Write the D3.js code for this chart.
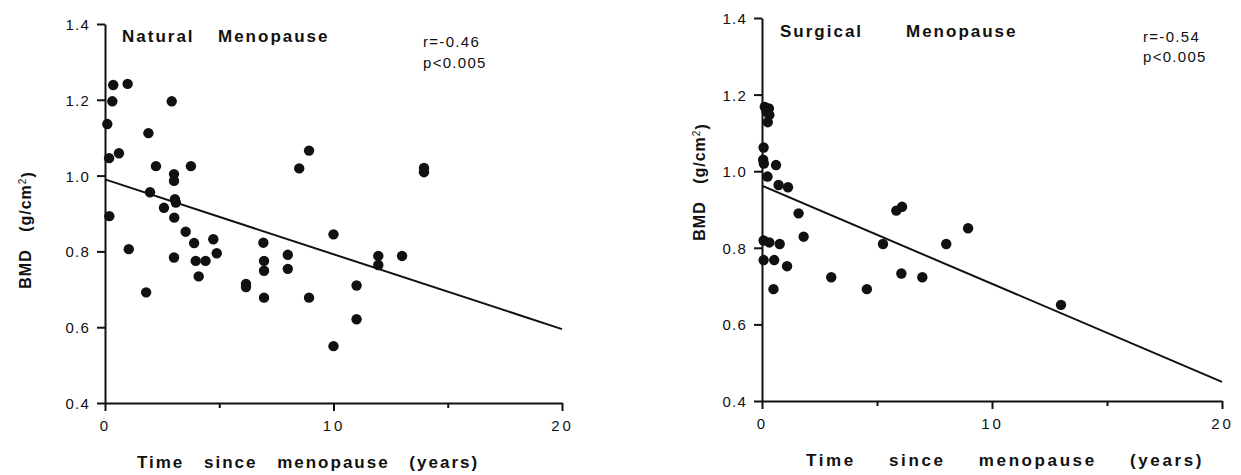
<!DOCTYPE html>
<html>
<head>
<meta charset="utf-8">
<script src="https://cdn.jsdelivr.net/npm/d3@7"></script>
<style>
  body { margin: 0; background: #fff; }
  svg { display: block; font-family: "Liberation Sans", Arial, sans-serif; }
</style>
</head>
<body>
<div id="vis"></div>
<script>
// Data
const naturalTime = [0.36, 0.99, 0.32, 2.92, 0.1, 1.9, 0.18, 0.61, 2.23, 3.76, 8.5, 8.93,
  3.02, 3.02, 1.97, 3.06, 3.1, 2.58, 0.19, 3.03, 3.53, 3.9, 4.74, 1.04, 3.02, 3.97, 4.4,
  4.89, 4.1, 1.8, 6.17, 6.17, 6.93, 6.96, 6.96, 6.96, 8.0, 8.0, 8.93, 10.0, 10.0, 13.96,
  13.96, 11.96, 11.96, 13.0, 11.01, 11.01];
const naturalBMD = [1.239, 1.242, 1.196, 1.196, 1.136, 1.112, 1.046, 1.059, 1.025, 1.025,
  1.019, 1.066, 1.004, 0.986, 0.956, 0.938, 0.929, 0.915, 0.893, 0.889, 0.852, 0.822, 0.832,
  0.806, 0.784, 0.775, 0.775, 0.795, 0.734, 0.692, 0.714, 0.706, 0.823, 0.775, 0.749, 0.678,
  0.791, 0.754, 0.678, 0.845, 0.55, 1.02, 1.009, 0.788, 0.764, 0.788, 0.71, 0.621];

const surgicalTime = [0.12, 0.3, 0.2, 0.32, 0.25, 0.07, 0.05, 0.08, 0.61, 0.24, 0.72, 1.13,
  1.59, 1.81, 5.84, 6.09, 8.96, 0.07, 0.32, 0.77, 0.07, 0.53, 1.09, 0.5, 3.01, 4.56, 5.26,
  6.06, 6.97, 8.01, 13.0];
const surgicalBMD = [1.168, 1.164, 1.155, 1.147, 1.128, 1.062, 1.03, 1.02, 1.016, 0.986,
  0.964, 0.958, 0.89, 0.829, 0.897, 0.907, 0.851, 0.819, 0.814, 0.81, 0.768, 0.768, 0.752,
  0.692, 0.723, 0.692, 0.81, 0.733, 0.723, 0.81, 0.651];

// Regression lines (value at time 0 and at time 20)
const fitTime = [0, 20];
const naturalFit = [0.99, 0.595];
const surgicalFit = [0.962, 0.45];

const xTicks = [0, 5, 10, 15, 20];
const xTickLabels = ["0", "", "10", "", "20"];
const yTicks = [0.4, 0.6, 0.8, 1.0, 1.2, 1.4];

const titles = [["Natural", "Menopause"], ["Surgical", "Menopause"]];
const stats = [["r=-0.46", "p<0.005"], ["r=-0.54", "p<0.005"]];

const svg = d3.select("#vis").append("svg")
  .attr("width", 1241)
  .attr("height", 475);

// Panel layout in pixels
const panels = [
  { time: naturalTime, bmd: naturalBMD, fit: naturalFit, title: titles[0], stats: stats[0],
    x0: 105, x1: 562, yTop: 24, yBottom: 403,
    titleX: [122, 218], titleY: 42, statX: 423, statY: [47, 68],
    yLabelX: 25, yLabelY: 230, xLabelX: 308, xLabelY: 468, xLs: 2, xWs: 13 },
  { time: surgicalTime, bmd: surgicalBMD, fit: surgicalFit, title: titles[1], stats: stats[1],
    x0: 762, x1: 1222, yTop: 18, yBottom: 401,
    titleX: [780, 906], titleY: 37, statX: 1143, statY: [42, 62],
    yLabelX: 699, yLabelY: 182, xLabelX: 1005, xLabelY: 466, xLs: 2.6, xWs: 26 }
];

panels.forEach((p) => {
  const g = svg.append("g");

  // Scales
  const x = d3.scaleLinear().domain([0, 20]).range([p.x0, p.x1]);
  const y = d3.scaleLinear().domain([0.4, 1.4]).range([p.yBottom, p.yTop]);

  // X axis
  const xAxis = g.append("g")
    .attr("transform", "translate(0," + p.yBottom + ")")
    .call(d3.axisBottom(x).tickValues(xTicks).tickSize(8)
      .tickFormat((d, i) => xTickLabels[i]).tickSizeOuter(0));
  xAxis.selectAll(".tick line")
    .attr("y2", (d) => d % 10 === 0 ? 8 : 5);

  // Y axis
  const yAxis = g.append("g")
    .attr("transform", "translate(" + p.x0 + ",0)")
    .call(d3.axisLeft(y).tickValues(yTicks).tickSize(8)
      .tickFormat(d3.format(".1f")).tickSizeOuter(0));

  [xAxis, yAxis].forEach((a) => {
    a.attr("font-family", null);
    a.select(".domain").attr("stroke", "#111").attr("stroke-width", 2);
    a.selectAll(".tick line").attr("stroke", "#111").attr("stroke-width", 2);
    a.selectAll("text")
      .attr("fill", "#111")
      .style("font-size", "15px");
  });
  xAxis.selectAll("text").attr("y", 17).style("letter-spacing", "3px");
  yAxis.selectAll("text").attr("x", -15).attr("dy", "0.36em").style("letter-spacing", "1.2px");

  // Regression line
  g.append("line")
    .attr("x1", x(fitTime[0]))
    .attr("y1", y(p.fit[0]))
    .attr("x2", x(fitTime[1]))
    .attr("y2", y(p.fit[1]))
    .attr("stroke", "#111")
    .attr("stroke-width", 2);

  // Points
  g.selectAll(".dot")
    .data(p.time.map((t, i) => ({ t, v: p.bmd[i] })))
    .enter().append("circle")
    .attr("class", "dot")
    .attr("cx", (d) => x(d.t))
    .attr("cy", (d) => y(d.v))
    .attr("r", 5.2)
    .attr("fill", "#111");

  // Panel title
  p.title.forEach((w, i) => {
    g.append("text")
      .attr("x", p.titleX[i])
      .attr("y", p.titleY)
      .style("font-size", "17px")
      .style("font-weight", "bold")
      .style("letter-spacing", "2px")
      .attr("fill", "#111")
      .text(w);
  });

  // Correlation text
  p.stats.forEach((s, i) => {
    g.append("text")
      .attr("x", p.statX)
      .attr("y", p.statY[i])
      .style("font-size", "15px")
      .style("letter-spacing", "1.3px")
      .attr("fill", "#111")
      .text(s);
  });

  // X axis label
  g.append("text")
    .attr("x", p.xLabelX)
    .attr("y", p.xLabelY)
    .attr("text-anchor", "middle")
    .style("font-size", "17px")
    .style("font-weight", "bold")
    .style("letter-spacing", p.xLs + "px")
    .style("word-spacing", p.xWs + "px")
    .attr("fill", "#111")
    .text("Time since menopause (years)");

  // Y axis label
  const yl = g.append("text")
    .attr("transform", "translate(" + p.yLabelX + "," + p.yLabelY + ") rotate(-90)")
    .attr("text-anchor", "middle")
    .attr("dy", "0.36em")
    .style("font-size", "16px")
    .style("font-weight", "bold")
    .style("letter-spacing", "1px")
    .style("word-spacing", "12px")
    .attr("fill", "#111");
  yl.append("tspan").text("BMD (g/cm");
  yl.append("tspan")
    .attr("dy", "-0.45em")
    .style("font-size", "10px")
    .style("font-weight", "normal")
    .text("2");
  yl.append("tspan")
    .attr("dy", "0.45em")
    .text(")");
});
</script>
</body>
</html>
